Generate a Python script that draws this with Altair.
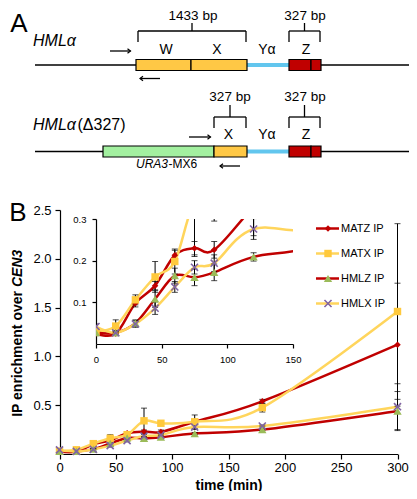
import altair as alt
import pandas as pd

FONT = "Liberation Sans"

# ---------------- Panel B values ----------------
times = [0, 15, 30, 45, 60, 75, 90, 120, 180, 300]
matz = [0.025, 0.025, 0.098, 0.140, 0.213, 0.230, 0.226, 0.330, 0.540, 1.120]
matx = [0.030, 0.043, 0.106, 0.161, 0.198, 0.340, 0.315, 0.330, 0.475, 1.460]
hmlz = [0.027, 0.027, 0.050, 0.108, 0.164, 0.160, 0.172, 0.209, 0.250, 0.440]
hmlx = [0.042, 0.027, 0.048, 0.086, 0.137, 0.184, 0.194, 0.276, 0.287, 0.485]
matz_sd = [0.005, 0.005, 0.009, 0.010, 0.012, 0.016, 0.020, 0.020, 0.020, 0.630]
matx_sd = [0.005, 0.015, 0.012, 0.037, 0.030, 0.130, 0.020, 0.070, 0.045, 0.900]
hmlz_sd = [0.005, 0.005, 0.008, 0.020, 0.018, 0.020, 0.020, 0.010, 0.010, 0.200]
hmlx_sd = [0.006, 0.005, 0.008, 0.015, 0.013, 0.016, 0.020, 0.025, 0.010, 0.235]
series_names = ["MATZ IP", "MATX IP", "HMLZ IP", "HMLX IP"]

main_x_ticks = [0, 50, 100, 150, 200, 250, 300]
main_y_ticks = [0.5, 1.0, 1.5, 2.0, 2.5]
inset_x_ticks = [0, 50, 100, 150]
inset_y_ticks = [0.1, 0.2, 0.3]

# ---------------- styles ----------------
RED = "#C00000"
YEL_LINE = "#FFD55C"
YEL_MARK = "#FFC93C"
GREEN = "#9BBB59"
PURPLE = "#8064A2"
X_PATH = "M-1,-1L1,1M-1,1L1,-1"
CHEVRON = "M-1,-0.75L0,0L-1,0.75"

series_vals = [matz, matx, hmlz, hmlx]
series_sd = [matz_sd, matx_sd, hmlz_sd, hmlx_sd]
line_cols = [RED, YEL_LINE, RED, YEL_LINE]
mark_cols = [RED, YEL_MARK, GREEN, PURPLE]
mark_shapes = ["diamond", "square", "triangle-up", X_PATH]
mark_sizes = [42, 55, 70, 50]

rows = []
for i, name in enumerate(series_names):
    for t, v, s in zip(times, series_vals[i], series_sd[i]):
        rows.append(dict(t=t, series=name, v=v, lo=v - s, hi=v + s,
                         lcol=line_cols[i], mcol=mark_cols[i],
                         shape=mark_shapes[i], msize=mark_sizes[i],
                         filled=(i < 3)))
df = pd.DataFrame(rows)
df_fill = df[df["filled"]].drop(columns=["filled"])
df_x = df[~df["filled"]].drop(columns=["filled"])
df = df.drop(columns=["filled"])

# ---------------- scales (view = inset plot area) ----------------
MX = alt.Scale(domain=[0, 300], range=[-36.5, 301.5], nice=False, zero=False)
MY = alt.Scale(domain=[0, 2.5], range=[235, -9], nice=False, zero=False)
IX = alt.Scale(domain=[0, 150], range=[0, 197], nice=False, zero=False)
IY = alt.Scale(domain=[0, 0.3], range=[125, 0], nice=False, zero=False)
PX = alt.Scale(domain=[0, 417], range=[-96, 321], nice=False, zero=False)  # page scale for diagram
PY = alt.Scale(domain=[0, 499], range=[-219, 280], nice=False, zero=False)

axis_common = dict(domainColor="black", tickColor="black", labelColor="black",
                   titleColor="black", labelFont=FONT, titleFont=FONT, grid=False,
                   labelFlush=False, labelOverlap=False, domainWidth=1.2, tickWidth=1.2)

main_x_axis = alt.Axis(orient="bottom", offset=110, values=main_x_ticks, title="time (min)",
                       titleFontSize=14, titleFontWeight="bold", labelFontSize=13,
                       tickSize=5, labelPadding=2, titlePadding=4, **axis_common)
main_y_axis = alt.Axis(orient="left", offset=36, values=main_y_ticks, format=".1f", title=None,
                       labelFontSize=13, tickSize=5, labelPadding=4, **axis_common)
inset_x_axis = alt.Axis(orient="bottom", offset=0, values=inset_x_ticks, title=None,
                        labelFontSize=9.5, tickSize=4, labelPadding=6, **axis_common)
inset_y_axis = alt.Axis(orient="left", offset=0, values=inset_y_ticks, format=".1f", title=None,
                        labelFontSize=9.5, tickSize=4, labelPadding=6, **axis_common)


def series_layers(xs, ys, xaxis, yaxis, clip):
    base = alt.Chart(df)
    X = lambda ax=None: alt.X("t:Q", scale=xs, axis=ax)
    line = base.mark_line(strokeWidth=2.5, interpolate="cardinal", clip=clip).encode(
        x=X(xaxis), y=alt.Y("v:Q", scale=ys, axis=yaxis),
        color=alt.Color("lcol:N", scale=None), detail="series:N", order="t:Q")
    err = base.mark_rule(color="black", strokeWidth=1, clip=clip).encode(
        x=X(), y=alt.Y("lo:Q", scale=ys, axis=None), y2="hi:Q")
    cap_lo = base.mark_tick(orient="horizontal", color="black", size=6, thickness=1,
                            clip=clip).encode(x=X(), y=alt.Y("lo:Q", scale=ys, axis=None))
    cap_hi = base.mark_tick(orient="horizontal", color="black", size=6, thickness=1,
                            clip=clip).encode(x=X(), y=alt.Y("hi:Q", scale=ys, axis=None))
    pts = alt.Chart(df_fill).mark_point(filled=True, opacity=1, clip=clip).encode(
        x=X(), y=alt.Y("v:Q", scale=ys, axis=None),
        color=alt.Color("mcol:N", scale=None), shape=alt.Shape("shape:N", scale=None),
        size=alt.Size("msize:Q", scale=None))
    xpts = alt.Chart(df_x).mark_point(shape=X_PATH, filled=False, color=PURPLE, strokeWidth=1.6,
                                      size=50, opacity=1, clip=clip).encode(
        x=X(), y=alt.Y("v:Q", scale=ys, axis=None))
    return [line, err, cap_lo, cap_hi, pts, xpts]


main_layers = series_layers(MX, MY, main_x_axis, main_y_axis, False)
inset_layers = series_layers(IX, IY, inset_x_axis, inset_y_axis, True)

# ---------------- legend ----------------
leg_df = pd.DataFrame(dict(series=series_names, row=[0, 1, 2, 3], lcol=line_cols,
                           mcol=mark_cols, shape=mark_shapes, msize=mark_sizes))
LEGY = alt.Scale(domain=[0, 3], range=[9.5, 84.5], nice=False, zero=False)
leg_line = alt.Chart(leg_df).mark_rule(strokeWidth=2.5).encode(
    x=alt.value(220), x2=alt.value(243), y=alt.Y("row:Q", scale=LEGY, axis=None),
    color=alt.Color("lcol:N", scale=None))
leg_pts = alt.Chart(leg_df[leg_df["row"] < 3]).mark_point(filled=True, opacity=1).encode(
    x=alt.value(232), y=alt.Y("row:Q", scale=LEGY, axis=None),
    color=alt.Color("mcol:N", scale=None), shape=alt.Shape("shape:N", scale=None),
    size=alt.Size("msize:Q", scale=None))
leg_x = alt.Chart(leg_df[leg_df["row"] == 3]).mark_point(
    shape=X_PATH, filled=False, color=PURPLE, strokeWidth=1.6, size=50, opacity=1).encode(
    x=alt.value(232), y=alt.Y("row:Q", scale=LEGY, axis=None))
leg_txt = alt.Chart(leg_df).mark_text(align="left", baseline="middle", font=FONT,
                                      fontSize=11, color="black").encode(
    x=alt.value(245), y=alt.Y("row:Q", scale=LEGY, axis=None), text="series:N")

# ---------------- y-axis title (mixed style) ----------------
ytitle_a = alt.Chart(pd.DataFrame({"s": ["IP enrichment over"]})).mark_text(
    angle=270, align="right", baseline="middle", font=FONT, fontSize=14, fontWeight="bold",
    color="black").encode(x=alt.value(-78), y=alt.value(72), text="s:N")
ytitle_b = alt.Chart(pd.DataFrame({"s": ["CEN3"]})).mark_text(
    angle=270, align="left", baseline="middle", font=FONT, fontSize=14, fontWeight="bold",
    fontStyle="italic", color="black").encode(x=alt.value(-78), y=alt.value(68), text="s:N")

# ---------------- Panel A diagram geometry (page units) ----------------
DRED = "#C00000"
DYEL = "#FFC845"
DGREEN = "#A3F0A0"
DBLUE = "#62C6EE"

row_y = [65, 151.5]
backbone = pd.DataFrame(dict(x=[35, 35], x2=[409, 409], y=row_y, y2=row_y))
blue = pd.DataFrame(dict(x=[247, 247], x2=[289, 289], y=row_y))
box_x0 = [136, 191, 289, 311, 103, 214, 289, 311]
box_x1 = [191, 247, 311, 321, 214, 247, 311, 321]
box_row = [0, 0, 0, 0, 1, 1, 1, 1]
box_fill = [DYEL, DYEL, DRED, DRED, DGREEN, DYEL, DRED, DRED]
boxes = pd.DataFrame(dict(x=box_x0, x2=box_x1,
                          y=[row_y[r] - 5.5 for r in box_row],
                          y2=[row_y[r] + 5.5 for r in box_row], fill=box_fill))

# brackets: (left, right, bar y, leg bottom, stem x, stem top)
brackets = [(138, 246, 31, 42, 192, 23), (289, 320, 31, 42, 304.5, 23),
            (214, 246, 117, 128, 230, 105), (289, 320, 117, 128, 304.5, 105)]
seg = []
for (l, r, yb, yl, xs_, yt) in brackets:
    seg += [(l, r, yb, yb), (l, l, yb, yl), (r, r, yb, yl), (xs_, xs_, yt, yb)]
# arrows: (tail x, tip x, y)
arrows = [(110, 130.5, 51), (160, 140, 78.5), (189, 210.5, 137), (240, 220, 166)]
for (a, b, y) in arrows:
    seg.append((min(a, b), max(a, b), y, y))
segs = pd.DataFrame(seg, columns=["x", "x2", "y", "y2"])
heads = pd.DataFrame(dict(x=[b for (a, b, y) in arrows], y=[y for (a, b, y) in arrows],
                          ang=[0 if b > a else 180 for (a, b, y) in arrows]))

label_txt = ["1433 bp", "327 bp", "327 bp", "327 bp", "W", "X", "Y\u03b1", "Z", "X", "Y\u03b1", "Z"]
label_x = [193, 305, 230, 305, 166, 217, 267, 306, 228.5, 267, 306]
label_y = [16, 16, 96.5, 96.5, 50, 50, 50, 50, 135, 135, 135]
label_fs = [13.5, 13.5, 13.5, 13.5, 14, 14, 14, 14, 14, 14, 14]
labels = pd.DataFrame(dict(s=label_txt, x=label_x, y=label_y, fs=label_fs))

ital_left = pd.DataFrame(dict(s=["HML\u03b1", "HML\u03b1"], x=[33, 33], y=[41, 125], fs=[16, 16]))
norm_left = pd.DataFrame(dict(s=["(\u0394327)", "-MX6"], x=[77.5, 168.5], y=[125, 164], fs=[16, 12]))
ital_right = pd.DataFrame(dict(s=["URA3"], x=[168], y=[164], fs=[12]))
panel_letters = pd.DataFrame(dict(s=["A", "B"], x=[19, 18], y=[24, 213], fs=[26, 26]))


def pxy(extra=None):
    enc = dict(x=alt.X("x:Q", scale=PX, axis=None), y=alt.Y("y:Q", scale=PY, axis=None))
    if extra:
        enc.update(extra)
    return enc


diag = [
    alt.Chart(backbone).mark_rule(color="black", strokeWidth=1.3).encode(
        **pxy(dict(x2="x2:Q"))),
    alt.Chart(blue).mark_rule(color=DBLUE, strokeWidth=4).encode(**pxy(dict(x2="x2:Q"))),
    alt.Chart(boxes).mark_rect(stroke="black", strokeWidth=1.2).encode(
        **pxy(dict(x2="x2:Q", y2="y2:Q", fill=alt.Fill("fill:N", scale=None)))),
    alt.Chart(segs).mark_rule(color="black", strokeWidth=1.3).encode(
        **pxy(dict(x2="x2:Q", y2="y2:Q"))),
    alt.Chart(heads).mark_point(shape=CHEVRON, filled=False, color="black", strokeWidth=1.2,
                                size=36, opacity=1).encode(
        **pxy(dict(angle=alt.Angle("ang:Q", scale=None)))),
    alt.Chart(labels).mark_text(align="center", baseline="middle", font=FONT, color="black").encode(
        **pxy(dict(text="s:N", size=alt.Size("fs:Q", scale=None)))),
    alt.Chart(ital_left).mark_text(align="left", baseline="middle", font=FONT, fontStyle="italic",
                                   color="black").encode(
        **pxy(dict(text="s:N", size=alt.Size("fs:Q", scale=None)))),
    alt.Chart(norm_left).mark_text(align="left", baseline="middle", font=FONT,
                                   color="black").encode(
        **pxy(dict(text="s:N", size=alt.Size("fs:Q", scale=None)))),
    alt.Chart(ital_right).mark_text(align="right", baseline="middle", font=FONT, fontStyle="italic",
                                    color="black").encode(
        **pxy(dict(text="s:N", size=alt.Size("fs:Q", scale=None)))),
    alt.Chart(panel_letters).mark_text(align="center", baseline="middle", font=FONT,
                                       color="black").encode(
        **pxy(dict(text="s:N", size=alt.Size("fs:Q", scale=None)))),
]

chart = alt.layer(
    *diag, *main_layers, *inset_layers, leg_line, leg_pts, leg_x, leg_txt, ytitle_a, ytitle_b
).resolve_scale(x="independent", y="independent").properties(
    width=197, height=125,
    padding={"left": 88, "top": 211, "right": 116, "bottom": 147},
    autosize=alt.AutoSizeParams(type="none"),
).configure_view(stroke=None)

chart.save("out.html", embed_options={"renderer": "svg", "actions": False})
